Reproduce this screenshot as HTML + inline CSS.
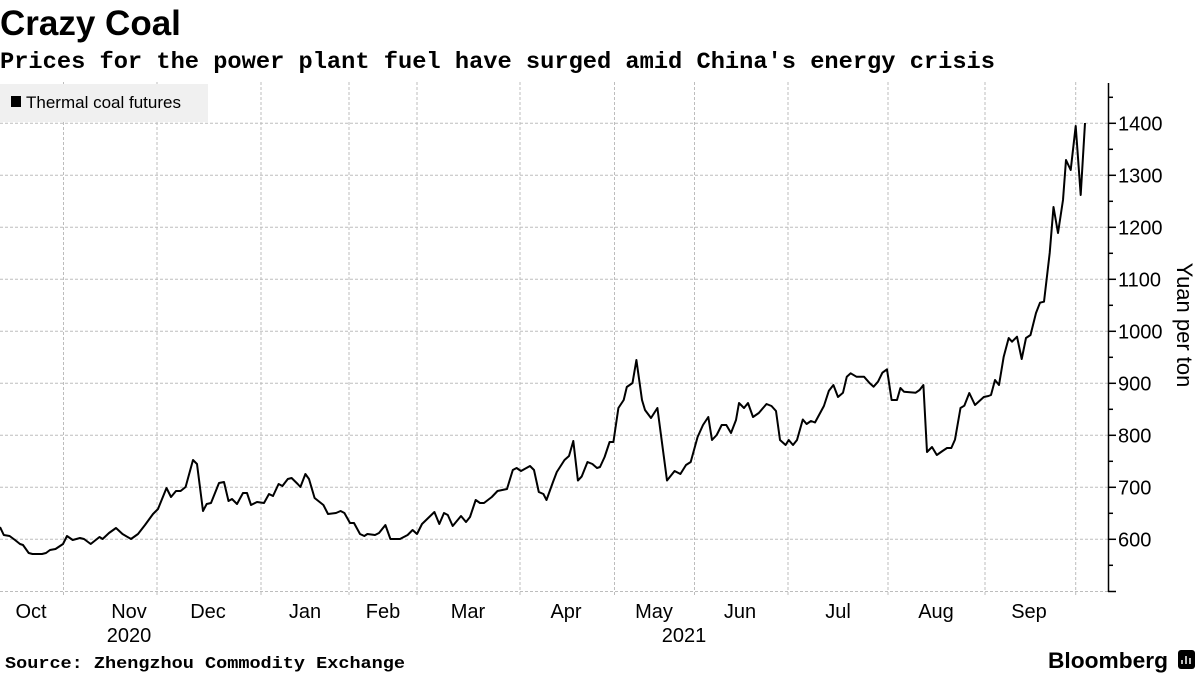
<!DOCTYPE html>
<html><head><meta charset="utf-8"><style>
body{margin:0;background:#fff;width:1200px;height:675px;overflow:hidden}
svg{display:block}
</style></head><body>
<svg width="1200" height="675" xmlns="http://www.w3.org/2000/svg">
<rect width="1200" height="675" fill="#fff"/>
<text x="0" y="35" font-family="Liberation Sans, sans-serif" font-weight="bold" font-size="35" fill="#000">Crazy Coal</text>
<text x="0" y="68" font-family="Liberation Mono, monospace" font-weight="bold" font-size="23" textLength="995" lengthAdjust="spacingAndGlyphs" fill="#000">Prices for the power plant fuel have surged amid China's energy crisis</text>
<g stroke="#bdbdbd" stroke-width="1" stroke-dasharray="3,2">
<line x1="0" y1="123.3" x2="1108" y2="123.3"/><line x1="0" y1="175.3" x2="1108" y2="175.3"/><line x1="0" y1="227.3" x2="1108" y2="227.3"/><line x1="0" y1="279.3" x2="1108" y2="279.3"/><line x1="0" y1="331.3" x2="1108" y2="331.3"/><line x1="0" y1="383.3" x2="1108" y2="383.3"/><line x1="0" y1="435.3" x2="1108" y2="435.3"/><line x1="0" y1="487.3" x2="1108" y2="487.3"/><line x1="0" y1="539.3" x2="1108" y2="539.3"/><line x1="0" y1="591.5" x2="1108" y2="591.5"/>
<line x1="63.5" y1="82" x2="63.5" y2="597"/><line x1="157" y1="82" x2="157" y2="597"/><line x1="261" y1="82" x2="261" y2="597"/><line x1="349" y1="82" x2="349" y2="597"/><line x1="417" y1="82" x2="417" y2="597"/><line x1="520" y1="82" x2="520" y2="597"/><line x1="614.5" y1="82" x2="614.5" y2="597"/><line x1="694.5" y1="82" x2="694.5" y2="597"/><line x1="788" y1="82" x2="788" y2="597"/><line x1="888" y1="82" x2="888" y2="597"/><line x1="985" y1="82" x2="985" y2="597"/><line x1="1075.7" y1="82" x2="1075.7" y2="597"/>
</g>
<rect x="0" y="84" width="208" height="38" fill="#f0f0f0"/>
<rect x="11" y="96" width="10" height="11" fill="#000"/>
<text x="26" y="108" font-family="Liberation Sans, sans-serif" font-size="17" fill="#000">Thermal coal futures</text>
<g stroke="#000" stroke-width="1.5">
<line x1="1108.5" y1="83" x2="1108.5" y2="592"/>
<line x1="1108" y1="123.3" x2="1116" y2="123.3"/><line x1="1108" y1="175.3" x2="1116" y2="175.3"/><line x1="1108" y1="227.3" x2="1116" y2="227.3"/><line x1="1108" y1="279.3" x2="1116" y2="279.3"/><line x1="1108" y1="331.3" x2="1116" y2="331.3"/><line x1="1108" y1="383.3" x2="1116" y2="383.3"/><line x1="1108" y1="435.3" x2="1116" y2="435.3"/><line x1="1108" y1="487.3" x2="1116" y2="487.3"/><line x1="1108" y1="539.3" x2="1116" y2="539.3"/><line x1="1108" y1="591.5" x2="1116" y2="591.5"/>
<line x1="1108" y1="97.3" x2="1113" y2="97.3"/><line x1="1108" y1="149.3" x2="1113" y2="149.3"/><line x1="1108" y1="201.3" x2="1113" y2="201.3"/><line x1="1108" y1="253.3" x2="1113" y2="253.3"/><line x1="1108" y1="305.3" x2="1113" y2="305.3"/><line x1="1108" y1="357.3" x2="1113" y2="357.3"/><line x1="1108" y1="409.3" x2="1113" y2="409.3"/><line x1="1108" y1="461.3" x2="1113" y2="461.3"/><line x1="1108" y1="513.3" x2="1113" y2="513.3"/><line x1="1108" y1="565.3" x2="1113" y2="565.3"/>
</g>
<g font-family="Liberation Sans, sans-serif" font-size="20" fill="#000">
<text x="1118" y="130.5">1400</text><text x="1118" y="182.5">1300</text><text x="1118" y="234.5">1200</text><text x="1118" y="286.5">1100</text><text x="1118" y="338.5">1000</text><text x="1118" y="390.5">900</text><text x="1118" y="442.5">800</text><text x="1118" y="494.5">700</text><text x="1118" y="546.5">600</text>
</g>
<text transform="translate(1177,325) rotate(90)" text-anchor="middle" font-family="Liberation Sans, sans-serif" font-size="22" fill="#000">Yuan per ton</text>
<g font-family="Liberation Sans, sans-serif" font-size="20" fill="#000" text-anchor="middle">
<text x="31" y="618">Oct</text><text x="129" y="618">Nov</text><text x="208" y="618">Dec</text><text x="305" y="618">Jan</text><text x="383" y="618">Feb</text><text x="468" y="618">Mar</text><text x="566" y="618">Apr</text><text x="654" y="618">May</text><text x="740" y="618">Jun</text><text x="838" y="618">Jul</text><text x="936" y="618">Aug</text><text x="1029" y="618">Sep</text>
<text x="129" y="642">2020</text><text x="684" y="642">2021</text>
</g>
<polyline fill="none" stroke="#000" stroke-width="2" stroke-linejoin="round" points="0,527 3.8,535 9.6,536 15,540 20,544 23,545 28.7,553 32.5,554 42,554 46,553 50,550 55.5,549 63,544 67,536 72.7,540 80,538 84,539 90.7,544 99.5,537 102.6,539 109,533 116,528 122.5,534 131,539 138,534 145,525 153,514 158,509 166.5,488 171,497 176,491 180.6,491 185.6,487 193,460 197,464 203,511 206.7,504 211,503 219,483 224,482 228.5,501 232,499 237,504 243,493 247,493 251,505 257,502 264,503 269,494 273,496 278.6,484 282.4,486 287.8,479 291.6,478 297.7,484 300.4,487 305.4,474 309,479 314.6,498 323.4,505 328,514 336,513 340.6,511 344.4,513 350,523 354,523 360,534 364.3,536 367.4,534 375,535 379,533 385.4,525 390.4,539 400,539 407.6,535 412.6,530 417,534 422,524 434.4,512 439.3,524 444,513 447.8,515 452.7,526 461,516 466,522 470,517 475.7,500 480,503 484,503 491.8,497 497.5,491 507,489 512.8,470 516.6,468 521,471 530,466 534,470 538.8,492 543.4,494 546.5,500 553,482 556.8,472 564.5,460 569,456 573.3,441 577.9,480.5 581.7,476.5 587.5,462 592.4,464 597,468 600,467 604.6,457 609.6,442 613.4,442 618.4,408 623.7,400 626.8,387 632.5,383 636.4,360 642,400 645,410 651,418 657.4,408 667,480.5 674.6,471 680.4,474 686,465 690.7,462 697.6,437 703,425 708.3,417 712,440 716.7,435 721.7,425 726.3,425 731,433 736,420 739,403 744,408 748,403 753,417 758.8,413 766.5,404 771.5,406 776,411 780,440 785.6,445 788.7,440 793,445 797,440 802.8,419.5 806.6,424 811,421 815,422.5 823.9,406 828.9,390.7 833.4,385 838,397 843,392.7 846.8,376.7 850.7,373.3 856.4,376.7 864,376.7 869.8,383.3 873.6,386.7 878,381.7 882.4,372.7 887,369.3 891.6,400 897,400 900.4,388 904,391.7 915.7,392.7 919.6,390 923.4,385 927,452 932,447 936.8,455 942.5,451 947,448 951.3,448 955,439.6 960.5,408 964.3,405.7 969.3,393 975,405 983.8,397 988.4,396 991,395 995,380 999,385 1003.7,356.7 1008.7,338 1012,341.7 1017,336.7 1021.7,359 1026,338 1030.5,335 1036,313 1040,302.7 1044,301.7 1049.7,253 1053.5,207 1058,233 1063,200 1066,160 1070.7,170 1075.7,126 1080.7,195 1085,123"/>
<text x="5" y="668" font-family="Liberation Mono, monospace" font-weight="bold" font-size="17" textLength="400" lengthAdjust="spacingAndGlyphs" fill="#000">Source: Zhengzhou Commodity Exchange</text>
<text x="1048" y="668" font-family="Liberation Sans, sans-serif" font-weight="bold" font-size="22" textLength="120" lengthAdjust="spacingAndGlyphs" fill="#000">Bloomberg</text>
<rect x="1178" y="650" width="17" height="19" rx="3" fill="#000"/>
<g stroke="#fff" stroke-width="1.5"><line x1="1182" y1="664" x2="1182" y2="660"/><line x1="1186" y1="664" x2="1186" y2="656"/><line x1="1190" y1="664" x2="1190" y2="658"/></g>
</svg>
</body></html>
